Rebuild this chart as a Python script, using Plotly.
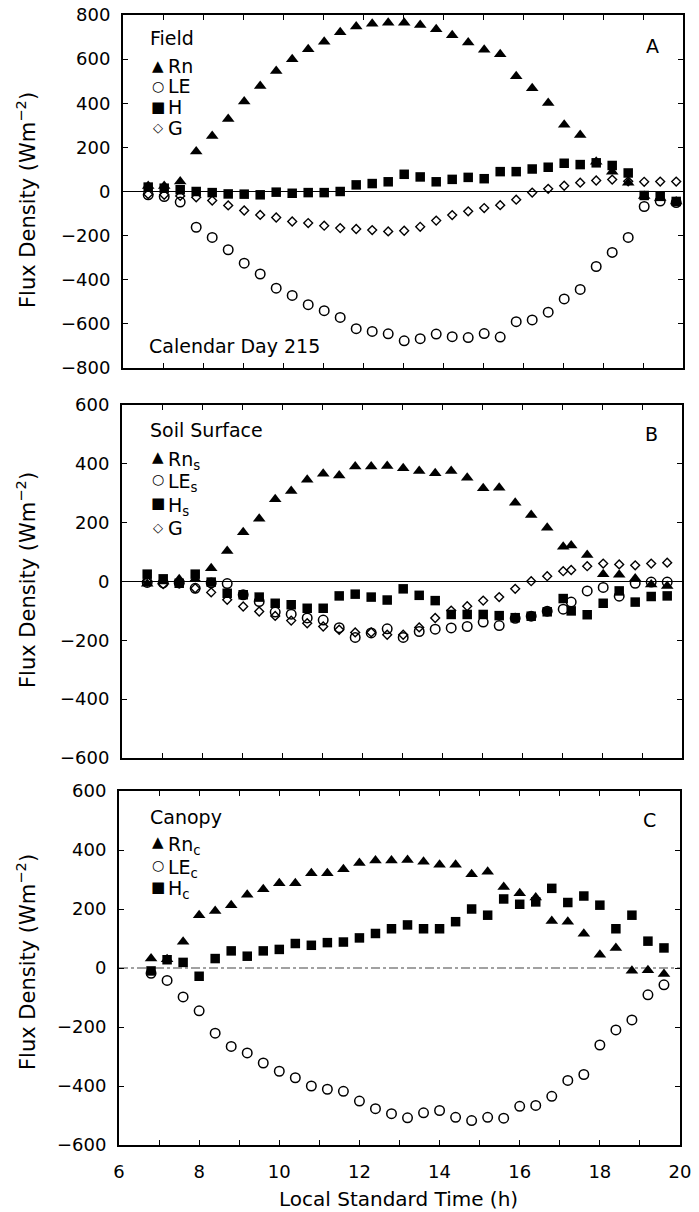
import plotly.graph_objects as go

# ---------------- data ----------------
time_a = [6.63, 7.03, 7.43, 7.83, 8.23, 8.63, 9.03, 9.43, 9.83, 10.23, 10.63, 11.03,
          11.43, 11.83, 12.23, 12.63, 13.03, 13.43, 13.83, 14.23, 14.63, 15.03, 15.43,
          15.83, 16.23, 16.63, 17.03, 17.43, 17.83, 18.23, 18.63, 19.03, 19.43, 19.83]
rn_a = [25, 25, 45, 181, 252, 329, 408, 478, 546, 599, 645, 679, 722, 748, 760, 765, 765,
        755, 735, 708, 675, 643, 622, 522, 468, 401, 303, 256, 135, 90, 40, -20, -30, -45]
le_a = [-15, -23, -48, -162, -208, -264, -325, -374, -438, -471, -513, -540, -571, -622,
        -634, -645, -677, -667, -646, -658, -662, -644, -660, -590, -582, -547, -487, -444,
        -340, -276, -208, -68, -43, -50]
h_a = [20, 15, 8, 0, -5, -11, -12, -15, -3, -8, -5, -5, 0, 30, 36, 44, 78, 66, 44, 55, 64,
       58, 90, 90, 102, 110, 128, 122, 130, 118, 84, -18, -22, -45]
g_a = [-12, -15, -20, -26, -41, -63, -86, -106, -118, -136, -143, -155, -166, -170, -175,
       -181, -178, -160, -132, -107, -90, -75, -62, -37, -5, 12, 26, 40, 50, 54, 46, 44, 45, 45]

time_b = [6.63, 7.03, 7.43, 7.83, 8.23, 8.63, 9.03, 9.43, 9.83, 10.23, 10.63, 11.03,
          11.43, 11.83, 12.23, 12.63, 13.03, 13.43, 13.83, 14.23, 14.63, 15.03, 15.43,
          15.83, 16.23, 16.63, 17.03, 17.23, 17.63, 18.03, 18.43, 18.83, 19.23, 19.63]
rn_b = [-8, 0, 8, 8, 45, 104, 167, 213, 280, 308, 346, 366, 360, 391, 391, 393, 385, 376,
        368, 376, 353, 317, 319, 268, 226, 183, 118, 122, 90, 25, 23, 10, -10, -15]
le_b = [-3, -5, -5, -23, -5, -7, -45, -68, -104, -111, -124, -131, -157, -190, -175, -161,
        -190, -170, -162, -158, -153, -138, -150, -125, -118, -101, -94, -70, -32, -20, -50,
        -6, -2, -2]
h_b = [25, 9, -6, 25, -2, -40, -45, -53, -74, -79, -91, -91, -49, -43, -53, -63, -25, -47,
       -65, -112, -112, -112, -116, -123, -118, -103, -58, -100, -113, -74, -32, -70, -51, -49]
g_b = [0, -9, -6, -23, -37, -62, -85, -102, -117, -133, -142, -153, -164, -173, -173, -181,
       -181, -156, -124, -99, -84, -65, -53, -25, 1, 18, 35, 39, 52, 61, 58, 55, 61, 64]

time_c = [6.8, 7.2, 7.6, 8.0, 8.4, 8.8, 9.2, 9.6, 10.0, 10.4, 10.8, 11.2, 11.6, 12.0, 12.4,
          12.8, 13.2, 13.6, 14.0, 14.4, 14.8, 15.2, 15.6, 16.0, 16.4, 16.8, 17.2, 17.6, 18.0,
          18.4, 18.8, 19.2, 19.6]
rn_c = [32, 30, 89, 179, 193, 213, 248, 267, 287, 287, 321, 321, 335, 356, 364, 364, 366,
        360, 350, 350, 318, 326, 275, 253, 239, 159, 157, 116, 45, 68, -9, -8, -20]
le_c = [-18, -42, -98, -145, -221, -266, -288, -322, -350, -372, -400, -411, -418, -451,
        -477, -494, -508, -491, -483, -506, -517, -506, -509, -469, -466, -435, -381, -361,
        -261, -210, -176, -91, -57]
h_c = [-10, 28, 19, -28, 32, 58, 40, 58, 63, 83, 77, 86, 88, 102, 117, 133, 146, 133, 133,
       157, 200, 179, 234, 216, 224, 270, 222, 244, 213, 133, 179, 91, 68]

x_label_ticks = [6, 8, 10, 12, 14, 16, 18, 20]
y_ticks_a = [-800, -600, -400, -200, 0, 200, 400, 600, 800]
y_ticks_bc = [-600, -400, -200, 0, 200, 400, 600]

# ---------------- page geometry helpers ----------------
W, H = 699, 1212


def fx(px):
    return px / W


def fy(py):
    return 1 - py / H


FONT = "DejaVu Sans"
BLACK = "black"

fig = go.Figure()

STY = {
    "tri": dict(symbol="triangle-up", size=11, color=BLACK),
    "cir": dict(symbol="circle-open", size=9.5, color=BLACK, line=dict(width=1.5, color=BLACK)),
    "sq": dict(symbol="square", size=9.5, color=BLACK),
    "dia": dict(symbol="diamond-open", size=6.8, color=BLACK, line=dict(width=1.4, color=BLACK)),
}


def add(x, y, sty, ax, name):
    fig.add_trace(go.Scatter(x=x, y=y, mode="markers", marker=STY[sty], name=name,
                             xaxis="x" + ax, yaxis="y" + ax, showlegend=False,
                             cliponaxis=False))


# panel A
add(time_a, le_a, "cir", "", "LE")
add(time_a, g_a, "dia", "", "G")
add(time_a, rn_a, "tri", "", "Rn")
add(time_a, h_a, "sq", "", "H")
# panel B
add(time_b, le_b, "cir", "2", "LEs")
add(time_b, g_b, "dia", "2", "G")
add(time_b, rn_b, "tri", "2", "Rns")
add(time_b, h_b, "sq", "2", "Hs")
# panel C
add(time_c, le_c, "cir", "3", "LEc")
add(time_c, rn_c, "tri", "3", "Rnc")
add(time_c, h_c, "sq", "3", "Hc")

common = dict(showline=True, linewidth=2, linecolor=BLACK, mirror="ticks", ticks="inside",
              ticklen=5, tickwidth=1.3, tickcolor=BLACK, showgrid=False, zeroline=False,
              tickfont=dict(family=FONT, size=18, color=BLACK))

panels = {
    "": dict(x=(123, 683), y=(15, 368), yr=[-800, 800], yt=y_ticks_a, xl=False),
    "2": dict(x=(122, 682), y=(405, 758), yr=[-600, 600], yt=y_ticks_bc, xl=False),
    "3": dict(x=(119, 680), y=(791, 1145), yr=[-600, 600], yt=y_ticks_bc, xl=True),
}

lay = {}
for key, p in panels.items():
    xa = "xaxis" + key
    ya = "yaxis" + key
    lay[xa] = dict(common, domain=[fx(p["x"][0]), fx(p["x"][1])], range=[6, 20],
                   tickmode="array", tickvals=x_label_ticks,
                   minor=dict(dtick=1, tick0=6, ticks="inside", ticklen=5, tickwidth=1.3,
                              tickcolor=BLACK, showgrid=False),
                   showticklabels=p["xl"], anchor="y" + key, ticklabelstandoff=9)
    lay[ya] = dict(common, domain=[fy(p["y"][1]), fy(p["y"][0])], range=p["yr"],
                   tickmode="array", tickvals=p["yt"], anchor="x" + key,
                   ticklabelstandoff=7)

fig.update_layout(**lay)

# zero lines
shapes = []
for key, dash, col in [("", "solid", BLACK), ("2", "solid", BLACK), ("3", "dashdot", "#444")]:
    xr = "x" + key
    yr = "y" + key
    shapes.append(dict(type="line", xref=xr + " domain", yref=yr, x0=0, x1=1, y0=0, y1=0,
                       line=dict(color=col, width=1.2, dash=dash), layer="below"))
fig.update_layout(shapes=shapes)

ann = []


def text(px, py, s, size=19, xanchor="left", angle=0):
    ann.append(dict(x=fx(px), y=fy(py), xref="paper", yref="paper", text=s, showarrow=False,
                    xanchor=xanchor, yanchor="middle", textangle=angle,
                    font=dict(family=FONT, size=size, color=BLACK)))


def glyph(px, py, g, size):
    ann.append(dict(x=fx(px), y=fy(py), xref="paper", yref="paper", text=g, showarrow=False,
                    xanchor="center", yanchor="middle",
                    font=dict(family=FONT, size=size, color=BLACK)))


GSIZE = {"▲": 15, "○": 14, "■": 15, "◇": 13}

# Panel A legend
text(148, 38, "Field")
for yy, g, lab in [(66, "▲", "Rn"), (86, "○", "LE"), (107, "■", "H"), (128, "◇", "G")]:
    glyph(158, yy, g, GSIZE[g])
    text(166, yy, lab)
text(147, 346, "Calendar Day 215")
text(652, 46, "A", xanchor="center")

# Panel B legend
text(148, 430, "Soil Surface")
for yy, g, lab in [(457, "▲", "Rn<sub>s</sub>"), (479, "○", "LE<sub>s</sub>"),
                   (503, "■", "H<sub>s</sub>"), (528, "◇", "G")]:
    glyph(158, yy, g, GSIZE[g])
    text(166, yy + (3 if "sub" in lab else 0), lab)
text(651, 434, "B", xanchor="center")

# Panel C legend
text(148, 817, "Canopy")
for yy, g, lab in [(842, "▲", "Rn<sub>c</sub>"), (865, "○", "LE<sub>c</sub>"),
                   (887, "■", "H<sub>c</sub>")]:
    glyph(158, yy, g, GSIZE[g])
    text(166, yy + 3, lab)
text(649, 820, "C", xanchor="center")

# axis titles
ytitle = "Flux Density (Wm<sup>−2</sup>)"
text(26, 200, ytitle, size=21, xanchor="center", angle=-90)
text(26, 580, ytitle, size=21, xanchor="center", angle=-90)
text(26, 962, ytitle, size=21, xanchor="center", angle=-90)
text(398, 1199, "Local Standard Time (h)", size=20, xanchor="center")

fig.update_layout(annotations=ann, width=W, height=H,
                  margin=dict(l=0, r=0, t=0, b=0, autoexpand=False),
                  paper_bgcolor="white", plot_bgcolor="white",
                  font=dict(family=FONT, color=BLACK))

fig.write_html("out.html", config={"displayModeBar": False},
               post_script="document.body.style.margin='0';document.body.style.overflow='hidden';")
